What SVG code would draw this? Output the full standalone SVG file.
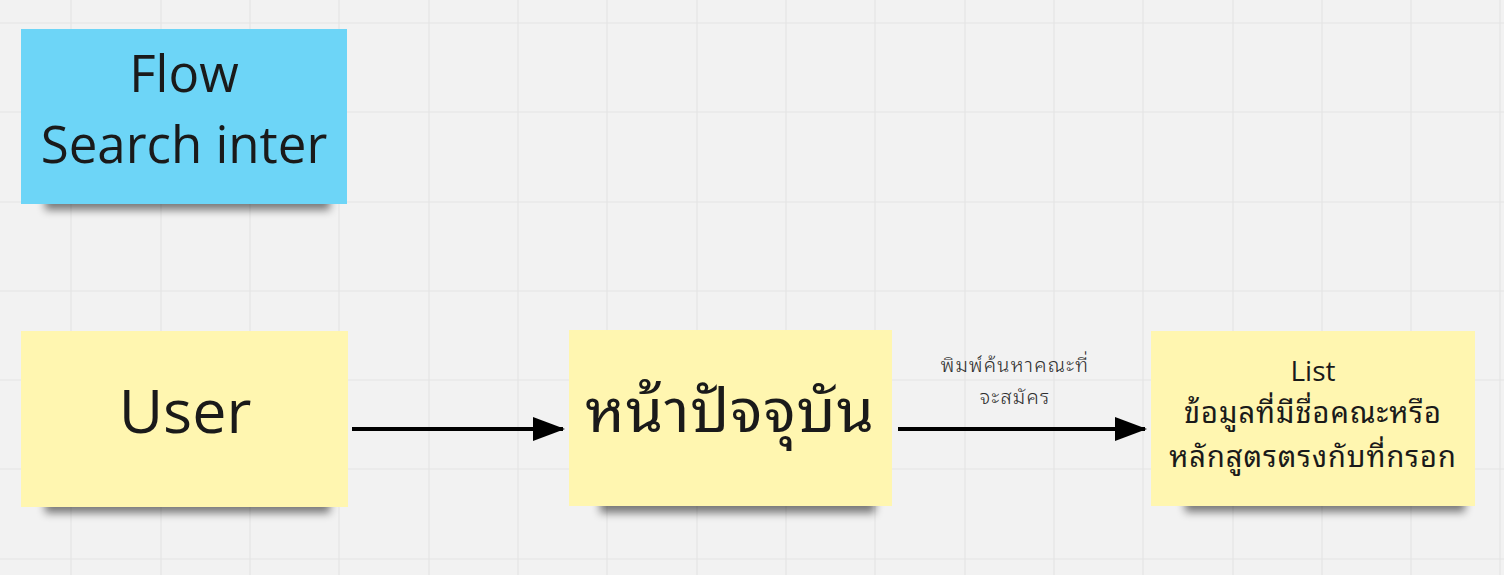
<svg xmlns="http://www.w3.org/2000/svg" width="1504" height="575" viewBox="0 0 1504 575">
<style>
.grid{stroke:#e4e4e4;stroke-width:1.2}
.yellow{fill:#fff6b0}
.blue{fill:#6dd5f7}
.t{font-family:"Open Sans",sans-serif;fill:#1a1a1a;text-anchor:middle}
.th{font-family:"Noto Sans Thai Looped","Noto Serif Thai","Loma","Garuda","Tahoma","Noto Sans Thai","Open Sans",sans-serif;fill:#1a1a1a;text-anchor:middle;font-weight:400}
.lbl{fill:#2e2e2e;font-size:20px;letter-spacing:1.2px;font-weight:300}
.conn{stroke:#000;stroke-width:4;fill:none}
.shadow{fill:#000;opacity:0.5;filter:url(#blur)}
</style>
<defs>
<filter id="blur" x="-20%" y="-50%" width="140%" height="200%"><feGaussianBlur stdDeviation="4.5"/></filter>
<marker id="arr" markerWidth="8" markerHeight="6" refX="7.5" refY="3" orient="auto" markerUnits="strokeWidth"><path d="M0,0 L8,3 L0,6 Z" fill="#000"/></marker>
</defs>
<rect width="1504" height="575" fill="#f2f2f2"/>
<g id="grid">
<path class="grid" d="M71,0V575M161,0V575M250,0V575M339,0V575M429,0V575M518,0V575M607,0V575M697,0V575M786,0V575M875,0V575M965,0V575M1054,0V575M1143,0V575M1233,0V575M1322,0V575M1411,0V575M1500,0V575"/>
<path class="grid" d="M0,23H1504M0,112H1504M0,202H1504M0,291H1504M0,380H1504M0,469H1504M0,559H1504"/>
</g>
<g id="title">
<rect class="shadow" x="45" y="186" width="285" height="24"/>
<rect class="blue" x="21" y="29" width="326" height="175"/>
<text class="t" x="184" y="92" font-size="51">Flow</text>
<text class="t" x="184" y="163" font-size="51">Search inter</text>
</g>
<g id="user">
<rect class="shadow" x="45" y="489" width="285" height="24"/>
<rect class="yellow" x="21" y="331" width="327" height="176"/>
<text class="t" x="185" y="433" font-size="61">User</text>
</g>
<g id="current">
<rect class="shadow" x="600" y="489" width="275" height="24"/>
<rect class="yellow" x="569" y="330" width="323" height="176"/>
<text class="th" x="730" y="432" font-size="60" font-weight="500" style="letter-spacing:1px">หน้าปัจจุบัน</text>
</g>
<g id="list">
<rect class="shadow" x="1185" y="488" width="280" height="24"/>
<rect class="yellow" x="1151" y="331" width="324" height="175"/>
<text class="t" x="1313" y="381" font-size="28">List</text>
<text class="th" x="1313" y="423" font-size="29" style="letter-spacing:1px">ข้อมูลที่มีชื่อคณะหรือ</text>
<text class="th" x="1313" y="467" font-size="29" style="letter-spacing:1px">หลักสูตรตรงกับที่กรอก</text>
</g>
<g id="connectors">
<line class="conn" x1="352" y1="429" x2="563" y2="429" marker-end="url(#arr)"/>
<line class="conn" x1="898" y1="429" x2="1145" y2="429" marker-end="url(#arr)"/>
<text class="th lbl" x="1015" y="372">พิมพ์ค้นหาคณะที่</text>
<text class="th lbl" x="1015" y="404">จะสมัคร</text>
</g>
</svg>
